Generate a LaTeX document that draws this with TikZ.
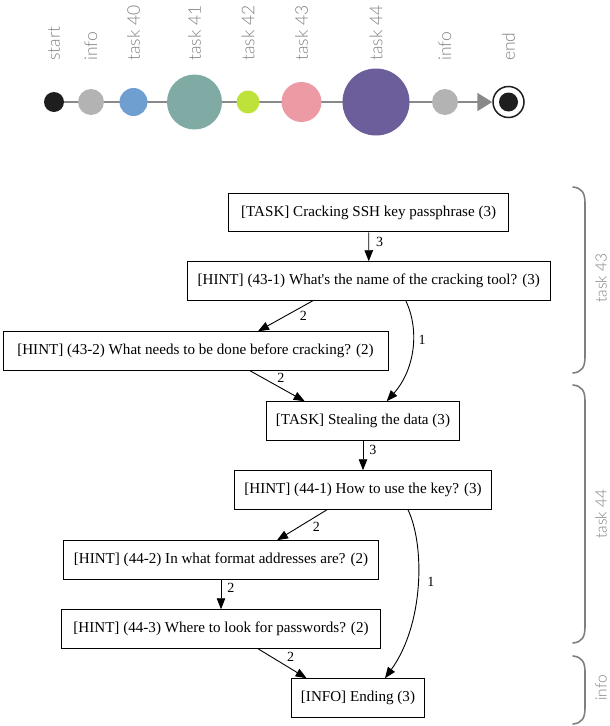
\documentclass[tikz,border=0pt]{standalone}
\usepackage{fontspec}
\setmainfont{Liberation Serif}[Ligatures=TeXOff]
\newfontfamily\lightsans{Lato Light}
\usetikzlibrary{arrows.meta,backgrounds}

\definecolor{lineGray}{HTML}{898989}
\definecolor{labelGray}{HTML}{7F7F7F}
\definecolor{infoGray}{HTML}{B3B3B3}
\definecolor{startBlack}{HTML}{1E1E1E}
\definecolor{taskA}{HTML}{6F9ED1}
\definecolor{taskB}{HTML}{80ABA5}
\definecolor{taskC}{HTML}{BDE33B}
\definecolor{taskD}{HTML}{EC9AA3}
\definecolor{taskE}{HTML}{6B5E9B}

\tikzset{
    box/.style={draw, line width=1pt, minimum height=38.5pt, inner xsep=0pt,
        font=\fontsize{15.1}{17}\selectfont},
    edge/.style={line width=0.9pt, -{Triangle[length=11pt,width=8.5pt]}},
    elabel/.style={font=\fontsize{14}{16}\selectfont, inner sep=1pt},
    blob/.style={circle, inner sep=0pt, minimum size=#1},
    toplabel/.style={rotate=90, anchor=west, inner sep=0pt, text=labelGray,
        font=\lightsans\fontsize{17.5}{20}\selectfont},
    sidelabel/.style={rotate=90, inner sep=0pt, text=labelGray,
        font=\lightsans\fontsize{15.5}{18}\selectfont},
    bracket/.style={draw=labelGray, line width=1.6pt, line cap=round}
}

\begin{document}
\begin{tikzpicture}[x=1pt,y=-1pt]
\useasboundingbox (0,0) rectangle (610,726);

% timeline
\coordinate (base) at (0,61); % bottom of the rotated labels
\node[blob=20pt, fill=startBlack] (cs) at (54,102) {};
\node[blob=26pt, fill=infoGray] (ci) at (91,102) {};
\node[blob=28pt, fill=taskA] (c40) at (133.5,102) {};
\node[blob=55pt, fill=taskB] (c41) at (194.5,102) {};
\node[blob=23pt, fill=taskC] (c42) at (248,102) {};
\node[blob=40pt, fill=taskD] (c43) at (301.5,102) {};
\node[blob=67pt, fill=taskE] (c44) at (376,102) {};
\node[blob=26pt, fill=infoGray] (cj) at (445,102) {};
\node[blob=31pt, draw=startBlack, line width=1.5pt, fill=white] (ce) at (508.5,102) {};
\fill[startBlack] (ce) circle [radius=9.5]; % end dot
\begin{scope}[on background layer]
\draw[lineGray, line width=2pt, -{Triangle[length=15pt,width=18pt]}] (cs) -- (ce.west); % time line
\end{scope}
\node[toplabel] (ls) at (cs |- base) {start};
\node[toplabel] (li) at (ci |- base) {info};
\node[toplabel] (l40) at (c40 |- base) {task 40};
\node[toplabel] (l41) at (c41 |- base) {task 41};
\node[toplabel] (l42) at (c42 |- base) {task 42};
\node[toplabel] (l43) at (c43 |- base) {task 43};
\node[toplabel] (l44) at (c44 |- base) {task 44};
\node[toplabel] (lj) at (cj |- base) {info};
\node[toplabel] (le) at (ce |- base) {end};

% boxes
\node[box, minimum width=280pt] (t43) at (368.7,212.5) {[TASK] Cracking SSH key passphrase (3)};
\node[box, minimum width=362.5pt] (h431) at (368.8,281) {[HINT] (43-1) What's the name of the cracking tool? (3)};
\node[box, minimum width=385pt] (h432) at (195.5,351) {[HINT] (43-2) What needs to be done before cracking? (2)};
\node[box, minimum width=193.6pt] (t44) at (363,421) {[TASK] Stealing the data (3)};
\node[box, minimum width=256.6pt] (h441) at (363,490) {[HINT] (44-1) How to use the key? (3)};
\node[box, minimum width=315.3pt] (h442) at (221,560) {[HINT] (44-2) In what format addresses are? (2)};
\node[box, minimum width=319.2pt] (h443) at (221,629) {[HINT] (44-3) Where to look for passwords? (2)};
\node[box, minimum width=133.6pt] (fin) at (358,698) {[INFO] Ending (3)};

% edges
\draw[edge] (t43) -- node[elabel, pos=0.33, right=6pt] {3} (h431);
\draw[edge] ([xshift=-56pt]h431.south) -- node[elabel, pos=0.5, right=13pt] {2} ([xshift=62.5pt]h432.north);
\draw[edge] ([xshift=37pt]h431.south) .. controls +(14,29.3) and +(28.3,-31.7) .. node[elabel, pos=0.4, right=4pt] {1} ([xshift=23.7pt]t44.north);
\draw[edge] ([xshift=54.5pt]h432.south) -- node[elabel, pos=0.22, right=14pt] {2} ([xshift=-58.3pt]t44.north);
\draw[edge] (t44) -- node[elabel, pos=0.3, right=5pt] {3} (h441);
\draw[edge] ([xshift=-36pt]h441.south) -- node[elabel, pos=0.57, right=13pt] {2} ([xshift=56pt]h442.north);
\draw[edge] ([xshift=45pt]h441.south) .. controls +(17,35.7) and +(39,-54) .. node[elabel, pos=0.47, right=8pt] {1} ([xshift=27pt]fin.north);
\draw[edge] (h442) -- node[elabel, pos=0.28, right=5pt] {2} (h443);
\draw[edge] ([xshift=37pt]h443.south) -- node[elabel, pos=0.28, right=14pt] {2} ([xshift=-51.4pt]fin.north);

% brackets
\draw[bracket] (573,187) .. controls (582,188) and (585,193) .. (585,203) -- (585,357) .. controls (585,367) and (582,372) .. (573,373); % task 43
\node[sidelabel] (s43) at (601,278) {task 43};
\draw[bracket] (573,385) .. controls (582,386) and (585,391) .. (585,401) -- (585,627) .. controls (585,637) and (582,642) .. (573,643); % task 44
\node[sidelabel] (s44) at (601,514) {task 44};
\draw[bracket] (573,656) .. controls (582,657) and (585,662) .. (585,672) -- (585,708) .. controls (585,718) and (582,723) .. (573,724); % info
\node[sidelabel] (sinfo) at (601,688) {info};
\end{tikzpicture}
\end{document}
